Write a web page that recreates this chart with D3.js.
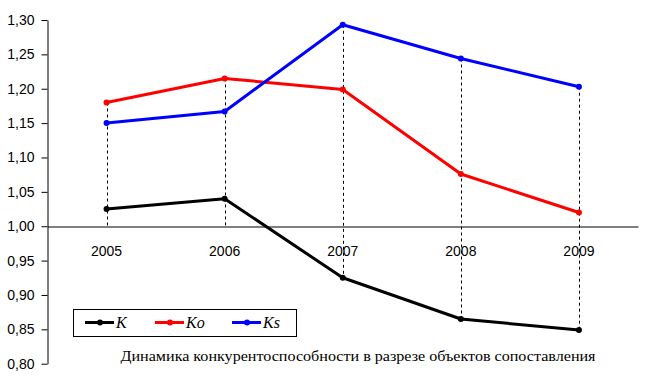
<!DOCTYPE html>
<html><head><meta charset="utf-8">
<script src="https://cdn.jsdelivr.net/npm/d3@7"></script>
<style>body{margin:0;background:#fff}svg{display:block}</style>
</head><body>
<script>
const categories = ["2005","2006","2007","2008","2009"];
const seriesNames = ["K","Ko","Ks"];
const seriesColors = ["#000000","#ff0000","#0000ff"];
const valuesK  = [1.025, 1.040, 0.925, 0.865, 0.849];
const valuesKo = [1.180, 1.215, 1.199, 1.076, 1.020];
const valuesKs = [1.150, 1.167, 1.293, 1.244, 1.203];
const yTicks = [0.80,0.85,0.90,0.95,1.00,1.05,1.10,1.15,1.20,1.25,1.30];
const title = "Динамика конкурентоспособности в разрезе объектов сопоставления";

const W = 646, H = 385;
const svg = d3.select("body").append("svg").attr("width", W).attr("height", H);

const x = d3.scaleBand().domain(categories).range([47.5, 638]);
const y = d3.scaleLinear().domain([0.80, 1.30]).range([363.7, 20]);
const series = [valuesK, valuesKo, valuesKs];

// drop lines (dashed)
categories.forEach((c, i) => {
  const vals = series.map(s => s[i]).concat([1.0]);
  const cx = Math.round(x(c) + x.bandwidth()/2) + 0.5;
  svg.append("line").attr("x1", cx).attr("x2", cx)
    .attr("y1", y(d3.max(vals))).attr("y2", y(d3.min(vals)))
    .attr("stroke", "#000").attr("stroke-width", 1).attr("stroke-dasharray", "3,3");
});

// y axis
const yAxis = d3.axisLeft(y).tickValues(yTicks).tickSize(6).tickSizeOuter(0)
  .tickFormat(d => d3.format(".2f")(d).replace(".", ","));
const gy = svg.append("g").attr("transform", "translate(47.5,0)").call(yAxis);
gy.selectAll("text").attr("font-family", "Liberation Sans, Arial, sans-serif")
  .attr("font-size", 14).attr("fill", "#000").attr("x", -13);
gy.selectAll("line, path").attr("stroke", "#000");

// x axis at 1.00
const xAxis = d3.axisBottom(x).tickSize(0).tickSizeOuter(0);
const gx = svg.append("g").attr("transform", `translate(0,${Math.round(y(1.0)) + 0.5})`).call(xAxis);
gx.select("path").attr("stroke", "#000");
gx.selectAll("text").attr("font-family", "Liberation Sans, Arial, sans-serif")
  .attr("font-size", 14).attr("fill", "#000").attr("dy", 0).attr("y", 29);

// series lines
const line = d3.line().x((d, i) => x(categories[i]) + x.bandwidth()/2).y(d => y(d));
series.forEach((s, k) => {
  svg.append("path").datum(s).attr("d", line).attr("fill", "none")
    .attr("stroke", seriesColors[k]).attr("stroke-width", 3).attr("stroke-linejoin", "round");
  svg.selectAll(null).data(s).enter().append("circle")
    .attr("cx", (d, i) => x(categories[i]) + x.bandwidth()/2).attr("cy", d => y(d))
    .attr("r", 3).attr("fill", seriesColors[k]);
});

// legend
const lg = svg.append("g");
lg.append("rect").attr("x", 73.5).attr("y", 309.5).attr("width", 223).attr("height", 27)
  .attr("fill", "#fff").attr("stroke", "#000").attr("stroke-width", 1);
const legX = [85, 155, 232];
seriesNames.forEach((n, k) => {
  const ly = 322.5;
  lg.append("line").attr("x1", legX[k]).attr("x2", legX[k] + 29).attr("y1", ly).attr("y2", ly)
    .attr("stroke", seriesColors[k]).attr("stroke-width", 3);
  lg.append("circle").attr("cx", legX[k] + 15).attr("cy", ly).attr("r", 3).attr("fill", seriesColors[k]);
  lg.append("text").attr("x", legX[k] + 31).attr("y", ly + 5.5)
    .attr("font-family", "Liberation Serif, Times New Roman, serif").attr("font-style", "italic")
    .attr("font-size", 16).text(n);
});

// title
svg.append("text").attr("x", 358).attr("y", 361).attr("text-anchor", "middle")
  .attr("font-family", "Liberation Serif, Times New Roman, serif").attr("font-size", 14)
  .attr("textLength", 475).attr("lengthAdjust", "spacingAndGlyphs").text(title);
</script>
</body></html>
